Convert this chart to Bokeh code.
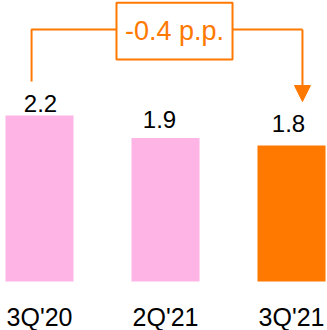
from bokeh.plotting import figure
from bokeh.models import ColumnDataSource, Range1d, Arrow, NormalHead
from bokeh.core.properties import value
from bokeh.embed import file_html
from bokeh.resources import INLINE

# --- data ---
quarters = ["3Q'20", "2Q'21", "3Q'21"]
ratios = [2.2, 1.9, 1.8]
change_text = "-0.4 p.p."

PINK = "#FFB4E6"
ORANGE = "#FF7900"
FONT = "Liberation Sans"

bar_colors = [PINK, PINK, ORANGE]
# small hand-tuned nudges (pixels) for the value labels
label_dx = [1, -6, -3]
label_lift = [12, 19, 22]

xs = list(range(len(quarters)))

src = ColumnDataSource(dict(
    x=xs, top=ratios, color=bar_colors, cat=quarters,
    txt=[f"{v:.1f}" for v in ratios], dx=label_dx, lift=[-v for v in label_lift],
))

p = figure(width=327, height=330, output_backend="svg", toolbar_location=None,
           x_range=Range1d(-0.3095, 2.2857), y_range=Range1d(-0.649, 3.722),
           min_border=0, background_fill_color="white", border_fill_color="white")
p.outline_line_color = None
p.axis.visible = False
p.grid.visible = False

p.vbar(x="x", top="top", bottom=0, width=0.54, fill_color="color",
       line_color=None, source=src)

# value labels above bars
p.text(x="x", y="top", text="txt", x_offset="dx", y_offset="lift", source=src,
       text_align="center", text_baseline="alphabetic",
       text_font=value(FONT), text_font_size="24px", text_color="black")

# category labels under bars
p.text(x="x", y=0, text="cat", y_offset=35, source=src,
       text_align="center", text_baseline="alphabetic",
       text_font=value(FONT), text_font_size="25px", text_color="black")

# change bracket from first to last quarter
first, last = xs[0], xs[-1]
y_bracket = 3.338
xl = first - 0.063
xr = last + 0.087
box_l, box_r = 0.611, 1.532
box_b, box_t = 2.94, 3.691

p.line([xl, xl, box_l], [ratios[0] + 0.45, y_bracket, y_bracket],
       line_color=ORANGE, line_width=2)
p.line([box_r, xr], [y_bracket, y_bracket], line_color=ORANGE, line_width=2)
p.add_layout(Arrow(x_start=xr, y_start=y_bracket, x_end=xr, y_end=ratios[-1] + 0.584,
                   line_color=ORANGE, line_width=2,
                   end=NormalHead(size=16, fill_color=ORANGE, line_color=ORANGE,
                                  line_width=1)))
p.quad(left=[box_l], right=[box_r], bottom=[box_b], top=[box_t],
       fill_color="white", line_color=ORANGE, line_width=2)
p.text(x=[(box_l + box_r) / 2], y=[3.183], text=[change_text], y_offset=-10,
       text_align="center", text_baseline="alphabetic",
       text_font=value(FONT), text_font_size="27px", text_color=ORANGE)

open("out.html", "w").write(file_html(p, INLINE))
